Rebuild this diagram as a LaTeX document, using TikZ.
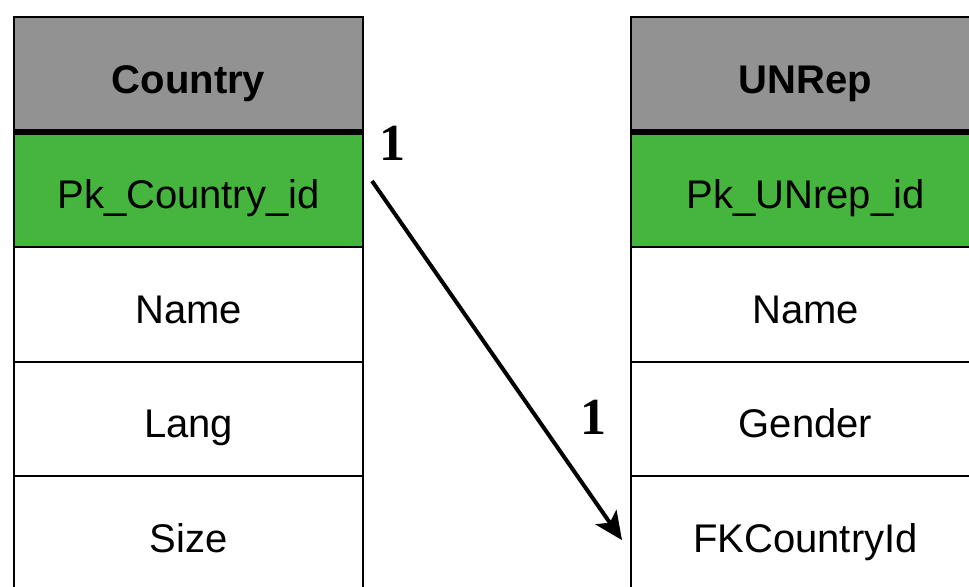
\documentclass[tikz,border=0pt]{standalone}
\usepackage{fontspec}
\setmainfont{Liberation Sans}
\newfontfamily\numfont{Liberation Serif}
\usetikzlibrary{arrows.meta}
\definecolor{hdrgray}{RGB}{146,146,146}
\definecolor{pkgreen}{RGB}{69,181,61}
\begin{document}
\begin{tikzpicture}[x=0.75pt,y=-0.75pt,
  cell/.style={draw=black, line width=1.5pt, minimum width=261.75pt, minimum height=86pt,
    inner sep=0pt, outer sep=0pt, font=\fontsize{30}{31}\selectfont, text height=28.2pt, text depth=0pt},
  hdr/.style={cell, fill=hdrgray, font=\bfseries\fontsize{30}{31}\selectfont, text height=28.2pt},
  pk/.style={cell, fill=pkgreen},
  sep/.style={line width=4.5pt},
  rel/.style={line width=3pt, -{Stealth[length=21pt,width=19pt,inset=5pt]}},
  card/.style={font=\numfont\bfseries\fontsize{39}{40}\selectfont, inner sep=0pt}]
\useasboundingbox (0,0) rectangle (969,586);
\clip (0,0) rectangle (969,586);
% Country table
\node[hdr] (c0) at (188.5,74.5) {Country};
\node[pk]  (c1) at (188.5,189.5) {Pk\_Country\_id};
\node[cell] (c2) at (188.5,304.2) {Name};
\node[cell] (c3) at (188.5,418.9) {Lang};
\node[cell] (c4) at (188.5,533.6) {Size};
\draw[sep] (c0.south west) -- (c0.south east);
% UNRep table
\node[hdr] (u0) at (805.5,74.5) {UNRep};
\node[pk]  (u1) at (805.5,189.5) {Pk\_UNrep\_id};
\node[cell] (u2) at (805.5,304.2) {Name};
\node[cell] (u3) at (805.5,418.9) {Gender};
\node[cell] (u4) at (805.5,533.6) {FKCountryId};
\draw[sep] (u0.south west) -- (u0.south east);
% relation
\draw[rel] ([xshift=6.75pt,yshift=6.4pt]c1.east) -- ([xshift=-6.75pt,yshift=-4.9pt]u4.west);
\node[card] (m1) at (392,143) {1};
\node[card] (m2) at (593.5,417) {1};
\end{tikzpicture}
\end{document}
